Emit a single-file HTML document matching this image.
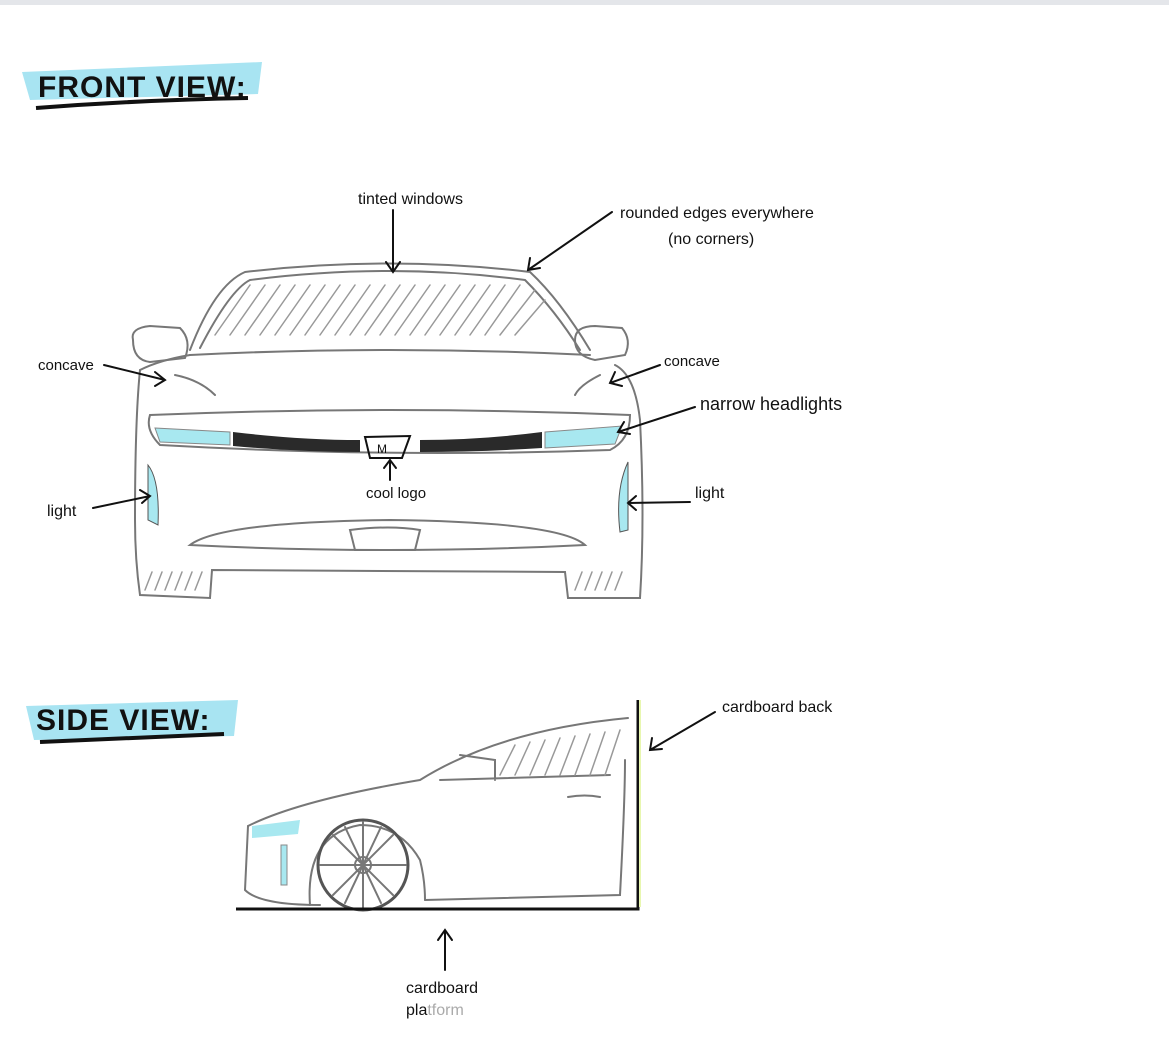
<!DOCTYPE html>
<html><head><meta charset="utf-8"><style>
html,body{margin:0;padding:0;background:#fff;width:1169px;height:1043px;overflow:hidden}
svg{display:block}
text{font-family:"Liberation Sans",sans-serif;fill:#111}
</style></head><body>
<svg width="1169" height="1043" viewBox="0 0 1169 1043" xmlns="http://www.w3.org/2000/svg">
<rect x="0" y="0" width="1169" height="5" fill="#e4e6ea"/>
<!-- titles -->
<path d="M22 72 L262 62 L258 94 L30 100 Z" fill="#a8e4f2"/>
<text x="38" y="97" font-size="30" font-weight="bold" letter-spacing="1">FRONT VIEW:</text>
<path d="M36 108 Q140 100 248 98" stroke="#111" stroke-width="4" fill="none"/>
<path d="M26 706 L238 700 L234 736 L34 740 Z" fill="#a8e4f2"/>
<text x="36" y="730" font-size="30" font-weight="bold" letter-spacing="1">SIDE VIEW:</text>
<path d="M40 742 Q130 738 224 734" stroke="#111" stroke-width="4" fill="none"/>

<g fill="none" stroke="#777" stroke-width="2" stroke-linecap="round">
<!-- front car -->
<path d="M190 350 Q215 285 245 272 Q390 255 530 272 Q560 300 590 350"/>
<path d="M200 348 Q230 290 250 280 Q390 262 525 280 Q555 310 580 350"/>
<path d="M190 355 Q390 345 590 355"/>
<path d="M133 340 Q130 328 150 326 L180 328 Q192 340 185 358 L150 362 Q133 360 133 340Z"/>
<path d="M575 340 Q575 326 595 326 L622 328 Q632 340 625 355 L595 360 Q575 356 575 340Z"/>
<path d="M140 370 Q135 420 135 520 Q135 560 140 595 L210 598 L212 570 L565 572 L568 598 L640 598 Q645 520 640 420 Q635 375 615 365"/>
<path d="M140 370 Q160 360 190 355"/>
<path d="M150 415 Q390 405 630 415 Q630 440 610 450 Q390 458 160 445 Q145 430 150 415Z"/>
<path d="M190 545 Q220 522 390 520 Q560 522 585 545 Q390 555 190 545Z"/>
<path d="M350 530 Q390 525 420 530 L415 550 L355 550 Z"/>
<path d="M175 375 Q200 380 215 395 M600 375 Q580 385 575 395"/>
<g stroke="#999" stroke-width="1.5">
<path d="M215 335 L250 285 M230 335 L265 285 M245 335 L280 285 M260 335 L295 285 M275 335 L310 285 M290 335 L325 285 M305 335 L340 285 M320 335 L355 285 M335 335 L370 285 M350 335 L385 285 M365 335 L400 285 M380 335 L415 285 M395 335 L430 285 M410 335 L445 285 M425 335 L460 285 M440 335 L475 285 M455 335 L490 285 M470 335 L505 285 M485 335 L520 285 M500 335 L535 290 M515 335 L545 300"/>
<path d="M145 590 L152 572 M155 590 L162 572 M165 590 L172 572 M175 590 L182 572 M185 590 L192 572 M195 590 L202 572 M575 590 L582 572 M585 590 L592 572 M595 590 L602 572 M605 590 L612 572 M615 590 L622 572"/>
</g>
</g>
<path d="M155 428 L230 432 L230 445 L160 442Z" fill="#a8e8f0" stroke="#888"/>
<path d="M545 432 L622 426 L615 444 L545 448Z" fill="#a8e8f0" stroke="#888"/>
<path d="M233 432 Q300 440 360 440 L360 452 Q300 452 233 446Z" fill="#2a2a2a"/>
<path d="M420 440 Q480 440 542 432 L542 448 Q480 452 420 452Z" fill="#2a2a2a"/>
<path d="M148 465 Q160 480 158 525 L148 520Z" fill="#a8e8f0" stroke="#555"/>
<path d="M628 462 Q615 490 620 532 L628 530Z" fill="#a8e8f0" stroke="#555"/>
<path d="M365 437 L410 436 L402 458 L370 458Z" fill="none" stroke="#111" stroke-width="2"/>
<text x="377" y="453" font-size="12">M</text>

<!-- side car -->
<g fill="none" stroke="#777" stroke-width="2" stroke-linecap="round">
<path d="M248 826 Q300 800 420 780 Q500 730 628 718"/>
<path d="M248 826 L245 890 Q260 905 320 905"/>
<path d="M310 905 Q305 835 360 825 Q400 825 420 860 Q425 880 425 900"/>
<path d="M425 900 L620 895 Q625 800 625 760"/>
<path d="M440 780 L610 775 M460 755 L495 760 L495 780 M568 797 Q585 794 600 797"/>
<circle cx="363" cy="865" r="45" stroke="#555" stroke-width="3"/>
<circle cx="363" cy="865" r="8"/>
<path d="M363 822 L363 908 M320 865 L406 865 M333 835 L393 895 M393 835 L333 895 M345 827 L381 903 M381 827 L345 903"/>
<g stroke="#999" stroke-width="1.5"><path d="M500 775 L515 745 M515 775 L530 742 M530 775 L545 740 M545 775 L560 738 M560 775 L575 736 M575 775 L590 734 M590 775 L605 732 M605 775 L620 730"/></g>
</g>
<path d="M252 826 L300 820 L298 834 L252 838Z" fill="#a8e8f0"/>
<rect x="281" y="845" width="6" height="40" fill="#a8e8f0" stroke="#888"/>
<path d="M236 909 L638 909 L638 700" fill="none" stroke="#111" stroke-width="3"/>
<path d="M636 700 L636 907" stroke="#e8f7b0" stroke-width="2" transform="translate(4 0)"/>

<!-- arrows and labels -->
<g stroke="#111" stroke-width="2" fill="none" stroke-linecap="round">
<path d="M393 210 L393 272 M386 262 L393 272 L400 262"/>
<path d="M612 212 L528 270 M530 258 L528 270 L540 268"/>
<path d="M104 365 L165 380 M155 372 L165 380 L155 386"/>
<path d="M660 365 L610 383 M615 372 L610 383 L622 386"/>
<path d="M695 407 L618 432 M624 422 L618 432 L630 434"/>
<path d="M93 508 L150 496 M140 490 L150 496 L142 503"/>
<path d="M690 502 L628 503 M636 496 L628 503 L636 510"/>
<path d="M390 480 L390 460 M384 468 L390 460 L396 468"/>
<path d="M715 712 L650 750 M652 738 L650 750 L662 749"/>
<path d="M445 970 L445 930 M438 940 L445 930 L452 940"/>
</g>
<g font-size="16">
<text x="358" y="204">tinted windows</text>
<text x="620" y="218">rounded edges everywhere</text>
<text x="668" y="244">(no corners)</text>
<text x="38" y="370" font-size="15">concave</text>
<text x="664" y="366" font-size="15">concave</text>
<text x="700" y="410" font-size="18">narrow headlights</text>
<text x="47" y="516">light</text>
<text x="695" y="498">light</text>
<text x="366" y="498" font-size="15">cool logo</text>
<text x="722" y="712">cardboard back</text>
<text x="406" y="993">cardboard</text>
<text x="406" y="1015">pla<tspan fill="#aaa">tform</tspan></text>
</g>
</svg>
</body></html>
